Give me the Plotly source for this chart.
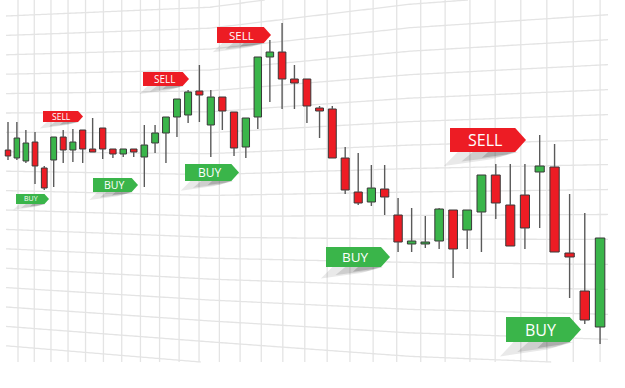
import numpy as np
import plotly.graph_objects as go

W, H = 625, 388

# ---------------- data (price units) ----------------
open_ = [238, 230, 227, 246, 220, 228, 251, 238, 258, 239,
         260, 239, 234, 239, 231, 245, 255, 271, 273, 297,
         263, 291, 276, 241, 271, 331, 336, 309, 309, 280,
         279, 230, 196, 186, 199, 173, 144, 144, 147, 178,
         158, 176, 213, 183, 193, 216, 221, 135, 97, 61]
high = [266, 266, 258, 256, 222, 251, 258, 259, 258, 270,
        260, 239, 239, 239, 263, 263, 271, 289, 298, 323,
        298, 291, 276, 270, 331, 348, 365, 323, 309, 282,
        282, 241, 235, 223, 223, 190, 180, 172, 180, 178,
        178, 213, 224, 224, 224, 253, 244, 194, 175, 150]
low = [228, 228, 225, 204, 198, 201, 225, 226, 225, 236,
       229, 230, 231, 231, 201, 235, 225, 251, 265, 266,
       231, 258, 232, 230, 259, 286, 279, 279, 265, 250,
       230, 194, 183, 182, 173, 136, 136, 140, 139, 110,
       139, 136, 169, 142, 139, 160, 136, 90, 64, 44]
close = [232, 250, 245, 222, 200, 251, 238, 246, 239, 236,
         239, 234, 239, 236, 243, 255, 271, 289, 296, 293,
         291, 277, 240, 270, 331, 336, 309, 305, 282, 277,
         230, 198, 185, 200, 191, 146, 147, 146, 179, 139,
         178, 213, 185, 142, 160, 222, 136, 131, 68, 150]

signal_labels = ["SELL", "BUY", "BUY", "SELL", "BUY", "SELL", "BUY", "SELL", "BUY"]

# ---------------- layout helpers (pixel geometry) ----------------
# flag boxes: x0, x1, y0, y1 (pixels, y downward), font size
flag_boxes = [
    (43, 83, 111, 122, 8.5),
    (16, 49, 194, 204, 7),
    (93, 138, 178, 192, 10.5),
    (143, 189, 72, 86, 10),
    (185, 239, 164, 181, 12),
    (217, 271, 27, 43, 11.5),
    (326, 390, 247, 267, 13.5),
    (450, 526, 128, 152, 16),
    (506, 581, 317, 342, 16),
]

GREEN = "#3ab54a"
RED = "#ed1c24"
EDGE = "#383838"
WICK = "#5a5a5a"


def P(x, y):
    return f"{x / W:.5f},{1 - y / H:.5f}"


n = len(open_)
idx = np.arange(n)
xpos = 8 + 8.8 * idx + 0.067 * idx ** 2          # perspective spacing
spacing = 8.8 + 0.134 * idx
widths = 0.62 * spacing

o = np.array(open_, float)
c = np.array(close, float)
hi = np.array(high, float)
lo = np.array(low, float)
top = np.maximum(o, c)
bot = np.minimum(o, c)
inc = c >= o

fig = go.Figure()

# wicks (upper and lower segments)
wx, wy = [], []
for i in range(n):
    if hi[i] > top[i]:
        wx += [xpos[i], xpos[i], None]
        wy += [hi[i], top[i], None]
    if lo[i] < bot[i]:
        wx += [xpos[i], xpos[i], None]
        wy += [bot[i], lo[i], None]
fig.add_trace(go.Scatter(x=wx, y=wy, mode="lines",
                         line=dict(color=WICK, width=1.4),
                         hoverinfo="skip"))

for mask, col in ((inc, GREEN), (~inc, RED)):
    fig.add_trace(go.Bar(
        x=xpos[mask], base=bot[mask], y=(top - bot)[mask],
        width=widths[mask],
        marker=dict(color=col, line=dict(color=EDGE, width=1)),
        hoverinfo="skip"))

shapes = []

# ---- perspective grid ----
grid_col = "#e4e4e4"
vx = [18 + 16.07 * j + 0.2033 * j ** 2 for j in range(28)]
vpath = " ".join(f"M {P(x, 0)} L {P(x, 362)}" for x in vx)
shapes.append(dict(type="path", path=vpath, xref="paper", yref="paper",
                   line=dict(color=grid_col, width=1.3), layer="below"))

kx = [6, 210, 410, 608]
ka = [0, -10, -38.6, -55.8]
kb = [1, 1.078, 1.21, 1.287]
xs = np.linspace(6, 608, 302)
A = np.interp(xs, kx, ka)
B = np.interp(xs, kx, kb)
for k in range(-1, 19):
    yl = 16 + 19.4 * k
    ys = A + B * yl
    pts = []
    for j in range(len(xs)):
        inside = 0 <= ys[j] <= 362
        if inside:
            if not pts and j > 0:
                yb = 0 if ys[j - 1] < 0 else 362
                t = (yb - ys[j - 1]) / (ys[j] - ys[j - 1])
                pts.append((xs[j - 1] + t * (xs[j] - xs[j - 1]), yb))
            pts.append((xs[j], ys[j]))
        elif pts:
            yb = 0 if ys[j] < 0 else 362
            t = (yb - ys[j - 1]) / (ys[j] - ys[j - 1])
            pts.append((xs[j - 1] + t * (xs[j] - xs[j - 1]), yb))
            break
    if len(pts) > 1:
        path = "M " + " L ".join(P(x, y) for x, y in pts)
        shapes.append(dict(type="path", path=path, xref="paper", yref="paper",
                           line=dict(color=grid_col, width=1.3), layer="below"))

# ---- flags with curl shadows ----
annotations = []
for label, (x0, x1, y0, y1, fs) in zip(signal_labels, flag_boxes):
    w = x1 - x0
    h = y1 - y0
    p = 0.45 * h
    layers = [
        (0.10, [(x0 + 0.90 * w, y1), (x0 + 0.10 * w, y1), (x0 - 0.08 * w, y1 + 0.58 * h), (x0 + 0.55 * w, y1 + 0.30 * h)]),
        (0.14, [(x0 + 0.88 * w, y1), (x0 + 0.30 * w, y1), (x0 + 0.15 * w, y1 + 0.40 * h), (x0 + 0.65 * w, y1 + 0.20 * h)]),
        (0.20, [(x0 + 0.85 * w, y1), (x0 + 0.50 * w, y1), (x0 + 0.42 * w, y1 + 0.24 * h), (x0 + 0.74 * w, y1 + 0.10 * h)]),
    ]
    for op, pts in layers:
        path = "M " + " L ".join(P(x, y) for x, y in pts) + " Z"
        shapes.append(dict(type="path", path=path, xref="paper", yref="paper",
                           fillcolor=f"rgba(40,40,40,{op})", line=dict(width=0)))
    col = RED if label == "SELL" else GREEN
    fpath = (f"M {P(x0, y0)} L {P(x1 - p, y0)} L {P(x1, (y0 + y1) / 2)} "
             f"L {P(x1 - p, y1)} L {P(x0, y1)} Z")
    shapes.append(dict(type="path", path=fpath, xref="paper", yref="paper",
                       fillcolor=col, line=dict(width=0)))
    annotations.append(dict(
        text=label, x=(x0 + (w - p * 0.6) / 2) / W, y=1 - ((y0 + y1) / 2) / H,
        xref="paper", yref="paper", showarrow=False,
        xanchor="center", yanchor="middle",
        font=dict(family="Open Sans, Noto Sans, sans-serif", size=fs, color="white")))

fig.update_layout(
    width=W, height=H,
    margin=dict(l=0, r=0, t=0, b=0),
    paper_bgcolor="white", plot_bgcolor="white",
    showlegend=False, barmode="overlay",
    xaxis=dict(range=[0, W], visible=False, fixedrange=True),
    yaxis=dict(range=[0, H], visible=False, fixedrange=True),
    shapes=shapes, annotations=annotations,
)

fig.write_html("out.html", config={"displayModeBar": False},
               post_script="document.body.style.margin='0';document.body.style.overflow='hidden';")
